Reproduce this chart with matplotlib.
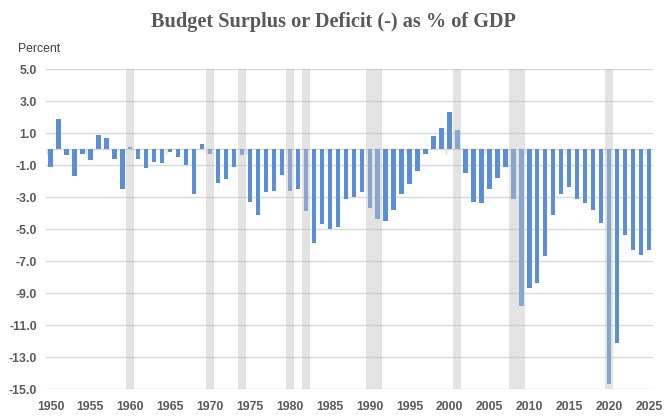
import matplotlib
matplotlib.use("Agg")
import matplotlib.pyplot as plt
import numpy as np

# budget balance, % of GDP
years = list(range(1950, 2026))
balance = [
    -1.1, 1.9, -0.4, -1.7, -0.3, -0.7, 0.9, 0.7, -0.6, -2.5,   # 1950s
    0.1, -0.6, -1.2, -0.8, -0.9, -0.2, -0.5, -1.0, -2.8, 0.3,   # 1960s
    -0.3, -2.1, -1.9, -1.1, -0.4, -3.3, -4.1, -2.7, -2.6, -1.6, # 1970s
    -2.6, -2.5, -3.9, -5.9, -4.7, -5.0, -4.9, -3.1, -3.0, -2.7, # 1980s
    -3.7, -4.4, -4.5, -3.8, -2.8, -2.2, -1.4, -0.3, 0.8, 1.3,   # 1990s
    2.3, 1.2, -1.5, -3.3, -3.4, -2.5, -1.8, -1.1, -3.1, -9.8,   # 2000s
    -8.7, -8.4, -6.7, -4.1, -2.8, -2.4, -3.1, -3.4, -3.8, -4.6, # 2010s
    -14.7, -12.1, -5.4, -6.3, -6.6, -6.3,                       # 2020s
]
# recession periods (first year, last year)
recessions = [(1960, 1960), (1970, 1970), (1974, 1974), (1980, 1980),
              (1982, 1982), (1990, 1991), (2001, 2001), (2008, 2009),
              (2020, 2020)]
y_ticks = list(range(5, -16, -2))
x_labels = list(range(1950, 2026, 5))

plt.rcParams['font.family'] = ['Liberation Sans', 'DejaVu Sans']

fig = plt.figure(figsize=(6.66, 4.17), dpi=100)
ax = fig.add_axes([46.5 / 666, 1 - 389 / 417, 606.5 / 666, 320 / 417])

ax.bar(years, balance, width=0.55, color='#5a8fd8', zorder=2)

# shaded recessions drawn over the bars, like the original
for start, end in recessions:
    ax.axvspan(start - 0.5, end + 0.5, color='#c2c2c2', alpha=0.46,
               lw=0, zorder=3)

ax.set_xlim(1949.5, 2025.5)
ax.set_ylim(-15, 5)
ax.set_yticks(y_ticks)
ax.set_yticklabels([f"{v:.1f}" for v in y_ticks])
ax.set_xticks(x_labels)
ax.set_xticklabels([str(y) for y in x_labels])
ax.tick_params(length=0, labelsize=8.8, labelcolor='#595959', pad=7)
for lab in ax.get_xticklabels() + ax.get_yticklabels():
    lab.set_fontweight('bold')
ax.tick_params(axis='x', pad=9)

ax.grid(axis='y', color='#d9d9d9', lw=1, zorder=0)
ax.set_axisbelow(True)
for s in ax.spines.values():
    s.set_visible(False)

# category axis at zero with small ticks every 5 years
ax.axhline(0, color='#d9d9d9', lw=1, zorder=1)
ax.vlines(np.arange(1949.5, 2026, 5), -0.3, 0, color='#d9d9d9', lw=1, zorder=1)

fig.text(0.5, 0.935, 'Budget Surplus or Deficit (-) as % of GDP',
         ha='center', va='baseline', family='Liberation Serif',
         fontweight='bold', fontsize=14.6, color='#595959')
fig.text(18 / 666, 1 - 52 / 417, 'Percent', ha='left', va='baseline',
         fontsize=8.8, color='#404040')

fig.savefig('out.png', dpi=100)
